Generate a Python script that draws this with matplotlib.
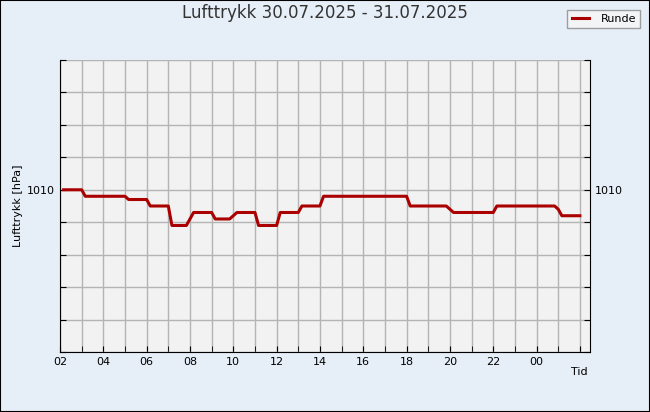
import pandas as pd
import matplotlib
matplotlib.use("Agg")
import matplotlib.pyplot as plt
import matplotlib.dates as mdates
from matplotlib.ticker import MultipleLocator, FuncFormatter

# Pressure readings, breakpoints of the step curve
times = ["2025-07-30 02:10", "2025-07-30 03:00", "2025-07-30 03:10", "2025-07-30 05:00",
         "2025-07-30 05:10", "2025-07-30 06:00", "2025-07-30 06:10", "2025-07-30 07:00",
         "2025-07-30 07:10", "2025-07-30 07:50", "2025-07-30 08:10", "2025-07-30 09:00",
         "2025-07-30 09:10", "2025-07-30 09:50", "2025-07-30 10:10", "2025-07-30 11:00",
         "2025-07-30 11:10", "2025-07-30 12:00", "2025-07-30 12:10", "2025-07-30 13:00",
         "2025-07-30 13:10", "2025-07-30 14:00", "2025-07-30 14:10", "2025-07-30 18:00",
         "2025-07-30 18:10", "2025-07-30 19:50", "2025-07-30 20:10", "2025-07-30 22:00",
         "2025-07-30 22:10", "2025-07-31 00:50", "2025-07-31 01:00", "2025-07-31 01:10",
         "2025-07-31 02:00"]
pressure = [1010.0, 1010.0, 1009.8, 1009.8,
            1009.7, 1009.7, 1009.5, 1009.5,
            1008.9, 1008.9, 1009.3, 1009.3,
            1009.1, 1009.1, 1009.3, 1009.3,
            1008.9, 1008.9, 1009.3, 1009.3,
            1009.5, 1009.5, 1009.8, 1009.8,
            1009.5, 1009.5, 1009.3, 1009.3,
            1009.5, 1009.5, 1009.4, 1009.2,
            1009.2]
station = "Runde"

t = pd.to_datetime(times)
x_start = pd.Timestamp("2025-07-30 02:00")
x_end = pd.Timestamp("2025-07-31 02:28")

bg = "#e6eef7"
fig = plt.figure(figsize=(6.5, 4.12), dpi=100, facecolor=bg)
fig.patches.append(plt.Rectangle((0, 0), 1, 1, transform=fig.transFigure,
                                 fill=False, edgecolor="black", linewidth=1.5))
ax = fig.add_axes([60/650, 60/412, 530/650, 292/412])
ax.set_facecolor("#f2f2f2")

ax.plot(t, pressure, color="#aa0000", linewidth=2.2, label=station)

ax.set_xlim(x_start, x_end)
ax.set_ylim(1005, 1014)

last_label = mdates.date2num(pd.Timestamp("2025-07-31 00:00"))
ax.xaxis.set_major_locator(mdates.HourLocator(byhour=range(0, 24, 2)))
ax.xaxis.set_major_formatter(FuncFormatter(
    lambda v, p: mdates.num2date(v).strftime("%H") if v <= last_label + 1e-6 else ""))
ax.xaxis.set_minor_locator(mdates.HourLocator())
ax.yaxis.set_major_locator(MultipleLocator(1))
ax.yaxis.set_major_formatter(FuncFormatter(lambda v, p: "1010" if abs(v - 1010) < 0.01 else ""))

ax.grid(True, which="both", axis="x", color="#b4b4b4", linewidth=1)
ax.grid(True, which="major", axis="y", color="#b4b4b4", linewidth=1)
ax.set_axisbelow(True)

ax.tick_params(axis="y", direction="in", length=4, right=True, labelright=True,
               labelsize=8, colors="black")
ax.tick_params(axis="x", which="both", direction="in", length=4, labelsize=8)
ax.spines["top"].set_visible(False)

ax.set_ylabel("Lufttrykk [hPa]", fontsize=8)
ax.yaxis.set_label_coords(-0.07, 0.5)
fig.text(588/650, 1 - 372/412, "Tid", fontsize=8, ha="right", va="center")

fig.suptitle("Lufttrykk 30.07.2025 - 31.07.2025", x=0.5, y=1 - 13/412, va="center",
             fontsize=12, color="#333333")

leg = fig.legend(loc="upper right", bbox_to_anchor=(646/650, 1 - 4/412), fontsize=8,
                 frameon=True, fancybox=False, edgecolor="#888888", facecolor="#f6f6f6",
                 handlelength=1.6, borderpad=0.4, handletextpad=1.0)
leg.get_frame().set_linewidth(1.0)

fig.savefig("out.png", dpi=100, facecolor=bg)
